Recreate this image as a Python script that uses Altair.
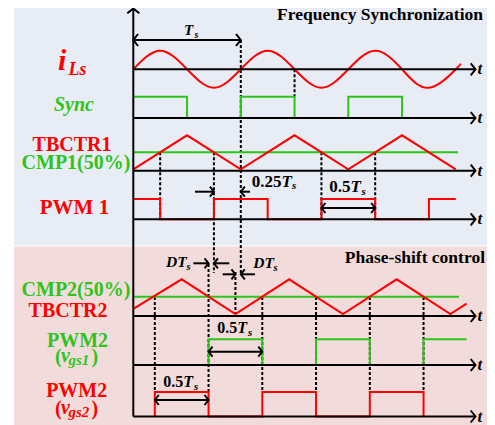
import altair as alt
import pandas as pd

# ---------------- data (time in units of Ts, signal levels normalised) ----------------
ILS_T = [0, 0.25, 0.5, 0.75, 1.0, 1.25, 1.5, 1.75, 2.0, 2.25, 2.5, 2.75, 3.0, 3.04]
ILS_V = [0, 1, 0, -1, 0, 1, 0, -1, 0, 1, 0, -1, 0, 0.25]

SYNC_T = [0, 0.5, 0.5, 1.0, 1.0, 1.5, 1.5, 2.0, 2.0, 2.5, 2.5, 3.0]
SYNC_V = [1, 1, 0, 0, 1, 1, 0, 0, 1, 1, 0, 0]

TRI1_T = [0, 0.5, 1.0, 1.5, 2.0, 2.5, 3.0]
TRI1_V = [0, 1, 0, 1, 0, 1, 0]
CMP1_T = [0, 3.02]
CMP1_V = [0.5, 0.5]

PWM1_T = [0, 0.25, 0.25, 0.75, 0.75, 1.25, 1.25, 1.75, 1.75, 2.25, 2.25, 2.75, 2.75, 3.0]
PWM1_V = [1, 1, 0, 0, 1, 1, 0, 0, 1, 1, 0, 0, 1, 1]

TRI2_T = [0, 0.45, 0.95, 1.45, 1.95, 2.45, 2.95, 3.1]
TRI2_V = [0.15, 1, 0, 1, 0, 1, 0, 0.3]
CMP2_T = [0, 3.03]
CMP2_V = [0.5, 0.5]

VGS1_T = [0.7, 0.7, 1.2, 1.2, 1.7, 1.7, 2.2, 2.2, 2.7, 2.7, 3.1]
VGS1_V = [0, 1, 1, 0, 0, 1, 1, 0, 0, 1, 1]
VGS2_T = [0.2, 0.2, 0.7, 0.7, 1.2, 1.2, 1.7, 1.7, 2.2, 2.2, 2.7, 2.7]
VGS2_V = [0, 1, 1, 0, 0, 1, 1, 0, 0, 1, 1, 0]

# ---------------- layout ----------------
W, H = 479, 417
X0, PX = 133.3, 107.5          # page x of t=0, pixels per Ts


def T(px):
    return (px - X0) / PX


def Y(py):
    return py - 8


RED, GREEN, BLACK = "#FF0000", "#2EC41C", "#000000"
FONT = "Liberation Serif, Times New Roman, DejaVu Serif, serif"
ROWS = {"ils": (69.3, 18.5), "sync": (118, 21.3), "tri1": (169.3, 34), "pwm1": (219.3, 20.3),
        "tri2": (314, 34.7), "vgs1": (365, 25.7), "vgs2": (416.5, 24.5)}
AX_Y = [69.3, 118, 170.7, 219.3, 316, 365, 416.5]
AX_END = 475.5

xs = alt.Scale(domain=[T(8), T(8 + W)], nice=False, zero=False)
ys = alt.Scale(domain=[0, H], nice=False, zero=False, reverse=True)
X = lambda f: alt.X(f, type="quantitative", scale=xs, axis=None)
Yc = lambda f: alt.Y(f, type="quantitative", scale=ys, axis=None)


def wave(name, row, ts, vs, color):
    base, amp = ROWS[row]
    return pd.DataFrame({"s": name, "t": ts, "y": [Y(base - v * amp) for v in vs],
                         "c": color, "i": list(range(len(ts)))})


ils_df = wave("ils", "ils", ILS_T, ILS_V, RED)
lin_df = pd.concat([
    wave("sync", "sync", SYNC_T, SYNC_V, GREEN),
    wave("cmp1", "tri1", CMP1_T, CMP1_V, GREEN),
    wave("tri1", "tri1", TRI1_T, TRI1_V, RED),
    wave("pwm1", "pwm1", PWM1_T, PWM1_V, RED),
    wave("cmp2", "tri2", CMP2_T, CMP2_V, GREEN),
    wave("tri2", "tri2", TRI2_T, TRI2_V, RED),
    wave("vgs1", "vgs1", VGS1_T, VGS1_V, GREEN),
    wave("vgs2", "vgs2", VGS2_T, VGS2_V, RED),
], ignore_index=True)

# backgrounds
bg_df = pd.DataFrame({"x": [T(14), T(14)], "x2": [T(490), T(490)],
                      "y": [Y(5), Y(246.5)], "y2": [Y(245.5), Y(440)],
                      "c": ["#E8ECF4", "#F2DCDB"]})

# dashed guides: (t, page y top, page y bottom)
DASH = [(1.0, 40, 273), (1.5, 69.3, 96.7), (0.25, 152.3, 219.3), (0.75, 152.3, 273),
        (1.75, 152.3, 219.3), (2.25, 152.3, 219.3), (0.7, 264, 391.7), (0.95, 272, 314),
        (0.2, 297, 391.7), (1.2, 297, 391.7), (1.7, 297, 391.7), (2.2, 297, 391.7),
        (2.7, 297, 391.7)]
dash_df = pd.DataFrame({"x": [d[0] for d in DASH], "y": [Y(d[1]) for d in DASH],
                        "y2": [Y(d[2]) for d in DASH]})

# solid shafts: axes and dimension arrows (x1, x2, page y1, page y2)
SHAFT = [(0, T(AX_END), a, a) for a in AX_Y] + [
    (0, 0, 8.5, 416.5),
    (0, 1.0, 40, 40),
    (T(195), 0.75, 191.7, 191.7), (T(250), 1.0, 191.7, 191.7),
    (1.75, 2.25, 208, 208),
    (T(193.3), 0.7, 263.3, 263.3), (T(229.3), 0.75, 263.3, 263.3),
    (T(222.7), 0.95, 274.3, 274.3), (T(255), 1.0, 274.3, 274.3),
    (0.7, 1.2, 351.7, 351.7), (0.2, 0.7, 400, 400)]
shaft_df = pd.DataFrame({"x": [s[0] for s in SHAFT], "x2": [s[1] for s in SHAFT],
                         "y": [Y(s[2]) for s in SHAFT], "y2": [Y(s[3]) for s in SHAFT]})

# arrow heads (t, page y, angle, size)
HEAD = [(T(AX_END), a, 0, 144) for a in AX_Y] + [
    (0, 8.5, 270, 144), (0, 40, 180, 144), (1.0, 40, 0, 144),
    (0.75, 191.7, 0, 100), (1.0, 191.7, 180, 100),
    (1.75, 208, 180, 100), (2.25, 208, 0, 100),
    (0.7, 263.3, 0, 100), (0.75, 263.3, 180, 100),
    (0.95, 274.3, 0, 100), (1.0, 274.3, 180, 100),
    (0.7, 351.7, 180, 100), (1.2, 351.7, 0, 100),
    (0.2, 400, 180, 100), (0.7, 400, 0, 100)]
head_df = pd.DataFrame({"x": [h[0] for h in HEAD], "y": [Y(h[1]) for h in HEAD],
                        "a": [h[2] for h in HEAD], "sz": [h[3] for h in HEAD]})

# texts: text, page x, page baseline, size, italic, colour, align
TEXTS = [
    ("Frequency Synchronization", 483, 20, 17.5, False, BLACK, "right"),
    ("Phase-shift control", 485, 263, 17.5, False, BLACK, "right"),
    ("i", 58, 70, 30, True, RED, "left"),
    ("Ls", 68.5, 75, 18, True, RED, "left"),
    ("Sync", 74, 110.5, 20, True, GREEN, "center"),
    ("TBCTR1", 72, 151, 20, False, RED, "center"),
    ("CMP1(50%)", 76, 168.5, 20, False, GREEN, "center"),
    ("PWM 1", 74.5, 214, 21, False, RED, "center"),
    ("CMP2(50%)", 76, 296, 20, False, GREEN, "center"),
    ("TBCTR2", 68, 317, 20, False, RED, "center"),
    ("PWM2", 77.5, 346.5, 20, False, GREEN, "center"),
    ("(", 55, 362.5, 20, False, GREEN, "left"),
    ("v", 61, 361.5, 20, True, GREEN, "left"),
    ("gs1", 68.5, 364.5, 15, True, GREEN, "left"),
    (")", 91.5, 362.5, 20, False, GREEN, "left"),
    ("PWM2", 76.7, 396.5, 20, False, RED, "center"),
    ("(", 55, 414.5, 20, False, RED, "left"),
    ("v", 61, 413.5, 20, True, RED, "left"),
    ("gs2", 68.5, 416.5, 15, True, RED, "left"),
    (")", 91.5, 414.5, 20, False, RED, "left"),
    ("T", 184, 35, 15, True, BLACK, "left"),
    ("s", 194.5, 37.5, 10, True, BLACK, "left"),
    ("0.25", 251.7, 186.5, 17, False, BLACK, "left"),
    ("T", 281.5, 186.5, 17, True, BLACK, "left"),
    ("s", 292, 189, 11, True, BLACK, "left"),
    ("0.5", 329.3, 192, 17, False, BLACK, "left"),
    ("T", 350.5, 192, 17, True, BLACK, "left"),
    ("s", 361.5, 194.5, 11, True, BLACK, "left"),
    ("DT", 166, 267, 15.5, True, BLACK, "left"),
    ("s", 186.5, 269.5, 10.5, True, BLACK, "left"),
    ("DT", 253.3, 268, 15.5, True, BLACK, "left"),
    ("s", 273.5, 270.5, 10.5, True, BLACK, "left"),
    ("0.5", 217.3, 333, 16, False, BLACK, "left"),
    ("T", 237.3, 333, 16, True, BLACK, "left"),
    ("s", 248, 335.5, 11, True, BLACK, "left"),
    ("0.5", 163.3, 387, 16, False, BLACK, "left"),
    ("T", 183.3, 387, 16, True, BLACK, "left"),
    ("s", 194, 389.5, 11, True, BLACK, "left"),
] + [("t", 477.5, a + 5, 17, True, BLACK, "left") for a in AX_Y]

txt_df = pd.DataFrame({"text": [r[0] for r in TEXTS], "x": [T(r[1]) for r in TEXTS],
                       "y": [Y(r[2]) for r in TEXTS], "size": [r[3] for r in TEXTS],
                       "it": [r[4] for r in TEXTS], "c": [r[5] for r in TEXTS],
                       "al": [r[6] for r in TEXTS]})

# ---------------- layers ----------------
bg = alt.Chart(bg_df).mark_rect().encode(x=X("x"), x2="x2", y=Yc("y"), y2="y2",
                                          color=alt.Color("c:N", scale=None))
dash = alt.Chart(dash_df).mark_rule(color=BLACK, strokeWidth=2, strokeDash=[3, 2]).encode(
    x=X("x"), y=Yc("y"), y2="y2")
sine = alt.Chart(ils_df).mark_line(interpolate="natural", strokeWidth=2).encode(
    x=X("t"), y=Yc("y"), color=alt.Color("c:N", scale=None), order="i:Q")
lines = alt.Chart(lin_df).mark_line(strokeWidth=2).encode(
    x=X("t"), y=Yc("y"), color=alt.Color("c:N", scale=None), detail="s:N", order="i:Q")
shafts = alt.Chart(shaft_df).mark_rule(color=BLACK, strokeWidth=2).encode(
    x=X("x"), x2="x2", y=Yc("y"), y2="y2")
heads = alt.Chart(head_df).mark_point(shape="M -0.8 -1 L 0 0 L -0.8 1", filled=False,
                                      color=BLACK, strokeWidth=2, opacity=1).encode(
    x=X("x"), y=Yc("y"), angle=alt.Angle("a:Q", scale=None), size=alt.Size("sz:Q", scale=None))

text_layers = []
for it in (False, True):
    for al in ("left", "center", "right"):
        sub = txt_df[(txt_df["it"] == it) & (txt_df["al"] == al)]
        if len(sub) == 0:
            continue
        text_layers.append(
            alt.Chart(sub).mark_text(font=FONT, fontWeight="bold",
                                     fontStyle="italic" if it else "normal", align=al,
                                     baseline="alphabetic").encode(
                x=X("x"), y=Yc("y"), text="text:N",
                size=alt.Size("size:Q", scale=None), color=alt.Color("c:N", scale=None)))

chart = alt.layer(bg, dash, sine, lines, shafts, heads, *text_layers).properties(
    width=W, height=H, padding=0, autosize=alt.AutoSizeParams(type="none"),
    background="white").configure_view(stroke=None)

chart.save("out.html", embed_options={"renderer": "svg", "actions": False})
